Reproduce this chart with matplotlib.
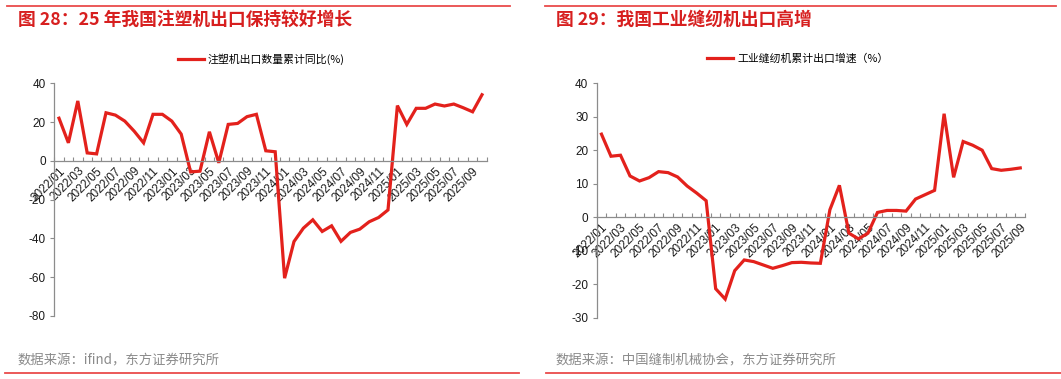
import matplotlib
matplotlib.use("Agg")
import matplotlib.pyplot as plt
import pandas as pd

plt.rcParams['font.family'] = ['Liberation Sans', 'Noto Sans CJK SC', 'DejaVu Sans']
plt.rcParams['axes.unicode_minus'] = False

# left panel: injection moulding machine exports, cumulative yoy (%)
left_months = pd.date_range('2022-01', '2025-10', freq='MS').strftime('%Y/%m').tolist()
left_vals = [22.0, 9.3, 30.9, 4.1, 3.6, 24.8, 23.6, 20.5, 15.3, 9.3, 24.0, 24.0,
             20.5, 13.8, -5.7, -5.3, 15.0, -1.0, 18.8, 19.3, 22.8, 24.0, 5.2, 4.7,
             -60.5, -41.6, -34.7, -30.4, -36.4, -33.5, -41.5, -36.9, -35.2, -31.4, -29.2, -25.3,
             28.5, 18.8, 27.1, 27.1, 29.3, 28.3, 29.3, 27.4, 25.3, 34.1]
left_yticks = [-80, -60, -40, -20, 0, 20, 40]
left_title = '图 28：25 年我国注塑机出口保持较好增长'
left_legend = '注塑机出口数量累计同比(%)'
left_source = '数据来源：ifind，东方证券研究所'

# right panel: industrial sewing machine exports, cumulative growth (%)
right_months = pd.date_range('2022-01', '2025-09', freq='MS').strftime('%Y/%m').tolist()
right_vals = [24.8, 18.2, 18.5, 12.3, 10.8, 11.8, 13.6, 13.3, 12.0, 9.3, 7.2, 4.9,
              -21.4, -24.5, -16.0, -12.8, -13.3, -14.3, -15.3, -14.5, -13.6, -13.5, -13.7, -13.8,
              2.2, 9.5, -4.8, -6.5, -4.8, 1.4, 2.0, 2.0, 1.8, 5.4, 6.7, 8.0,
              30.9, 11.9, 22.6, 21.5, 20.0, 14.5, 14.0, 14.3, 14.7]
right_yticks = [-30, -20, -10, 0, 10, 20, 30, 40]
right_title = '图 29：我国工业缝纫机出口高增'
right_legend = '工业缝纫机累计出口增速（%）'
right_source = '数据来源：中国缝制机械协会，东方证券研究所'

RED = '#e3211c'
FRAME_RED = '#e94b4b'
AXIS_GRAY = '#8c8c8c'
CJK = ['Noto Sans CJK SC', 'DejaVu Sans']

W, H = 1061, 379
fig = plt.figure(figsize=(W / 100, H / 100), dpi=100)


def px(x0, y0, x1, y1):
    # pixel box -> figure fraction rect
    return [x0 / W, 1 - y1 / H, (x1 - x0) / W, (y1 - y0) / H]


def panel(rect, months, vals, yticks, legend, legend_x):
    ax = fig.add_axes(rect)
    n = len(months)
    x = list(range(n))
    ax.plot(x, vals, color=RED, lw=2.3, label=legend, solid_joinstyle='miter')
    ax.set_xlim(-0.5, n - 0.5)
    ax.set_ylim(yticks[0], yticks[-1])
    ax.set_yticks(yticks)
    ax.spines['top'].set_visible(False)
    ax.spines['right'].set_visible(False)
    ax.spines['bottom'].set_position(('data', 0))
    for s in ('left', 'bottom'):
        ax.spines[s].set_color(AXIS_GRAY)
        ax.spines[s].set_linewidth(0.9)
    ax.set_xticks(x[::2])
    ax.set_xticklabels(months[::2], rotation=45, ha='right', va='top',
                       rotation_mode='anchor', fontsize=8.5, color='#1a1a1a')
    ax.set_xticks([i - 0.5 for i in range(n + 1)], minor=True)
    ax.tick_params(axis='x', which='major', length=0, pad=3)
    ax.tick_params(axis='x', which='minor', length=3, direction='in',
                   color=AXIS_GRAY, width=0.8)
    ax.tick_params(axis='y', length=3, color=AXIS_GRAY, width=0.8,
                   labelsize=8.5, labelcolor='#1a1a1a', pad=3)
    ax.legend(loc='center', bbox_to_anchor=(legend_x, 1.105), frameon=False,
              prop={'family': CJK, 'size': 7.8}, handlelength=2.4,
              handletextpad=0.35, borderaxespad=0)
    return ax


panel(px(54.3, 83.3, 486.7, 316.0), left_months, left_vals, left_yticks,
      left_legend, 0.478)
panel(px(596.7, 83.3, 1025.0, 317.5), right_months, right_vals, right_yticks,
      right_legend, 0.47)

# titles, sources and frame lines
fig.text(18 / W, 1 - 20 / H, left_title, family=CJK, fontsize=12.8, weight='bold',
         color='#d71f1f', va='center', ha='left')
fig.text(556 / W, 1 - 20 / H, right_title, family=CJK, fontsize=12.8, weight='bold',
         color='#d71f1f', va='center', ha='left')
fig.text(18 / W, 1 - 360 / H, left_source, family=CJK, fontsize=9.6,
         color='#8a8a8a', va='center', ha='left')
fig.text(556 / W, 1 - 360 / H, right_source, family=CJK, fontsize=9.6,
         color='#8a8a8a', va='center', ha='left')

for (xa, xb, yy) in [(7, 510, 5.5), (545, 1056, 5.5), (5, 519, 372.5), (546, 1061, 372.5)]:
    fig.add_artist(plt.Line2D([xa / W, xb / W], [1 - yy / H, 1 - yy / H],
                              color=FRAME_RED, lw=1.3))

fig.savefig('out.png', dpi=100)
